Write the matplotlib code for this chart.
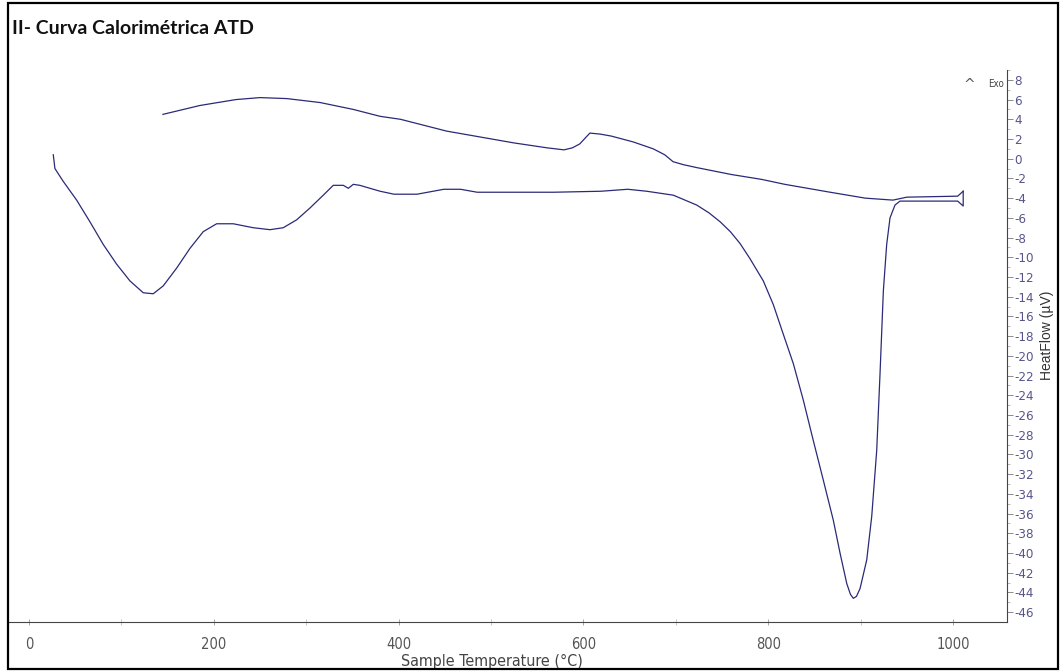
import matplotlib
matplotlib.use("Agg")
import matplotlib.pyplot as plt
from matplotlib.patches import Rectangle

# heating branch (sample temperature in C, heat flow in uV)
heat_T = [26.3, 28.1, 37.1, 51.6, 66, 80.4, 94.9, 109.3, 123.7, 134.5, 145.3, 159.8,
          174.2, 188.6, 203.1, 221.1, 242.7, 260.8, 275.2, 289.7, 304.1, 318.5, 329.3,
          340.2, 345.6, 351, 358, 380, 395, 420, 449, 467, 485, 568, 619, 648, 668.5,
          697.3, 722.6, 736, 748, 759, 769.5, 780, 794.7, 805.5, 816.3, 827.2, 838,
          848.8, 859.6, 870.5, 877.7, 885, 889, 892.1, 895.5, 899.4, 906.6, 912, 917.4,
          921, 924.6, 928.2, 931.8, 937.2, 942.6, 980, 1005, 1011, 1011]
heat_hf = [0.4, -1.0, -2.3, -4.2, -6.4, -8.7, -10.7, -12.4, -13.6, -13.7, -12.9, -11.1,
           -9.1, -7.4, -6.6, -6.6, -7.0, -7.2, -7.0, -6.2, -5.0, -3.7, -2.7, -2.7, -3.0,
           -2.6, -2.7, -3.3, -3.6, -3.6, -3.1, -3.1, -3.4, -3.4, -3.3, -3.1, -3.3, -3.7,
           -4.7, -5.5, -6.4, -7.4, -8.6, -10.1, -12.4, -14.8, -17.8, -20.8, -24.5, -28.6,
           -32.6, -36.7, -40.0, -43.1, -44.2, -44.6, -44.4, -43.6, -40.7, -36.3, -29.6,
           -21.8, -13.4, -8.7, -6.0, -4.7, -4.3, -4.3, -4.3, -4.8, -3.3]

# cooling branch
cool_T = [1011, 1005, 950, 935, 905, 867, 818, 793, 760, 722.6, 708, 697, 688, 675.6,
          654, 630, 618, 607, 602, 596, 588, 579, 561, 525, 452, 402, 380, 351, 315,
          279, 250, 224, 185, 145]
cool_hf = [-3.3, -3.8, -3.9, -4.2, -4.0, -3.4, -2.6, -2.1, -1.6, -0.9, -0.6, -0.3, 0.4,
           1.0, 1.7, 2.3, 2.5, 2.6, 2.1, 1.5, 1.1, 0.9, 1.1, 1.6, 2.8, 4.0, 4.3, 5.0,
           5.7, 6.1, 6.2, 6.0, 5.4, 4.5]

x_ticks = [0, 200, 400, 600, 800, 1000]
y_ticks = list(range(8, -47, -2))

lab_font = dict(family='DejaVu Sans', stretch='condensed')
line_col = '#2a2a78'

fig = plt.figure(figsize=(10.61, 6.71), dpi=100)
ax = fig.add_axes([9 / 1061, 49 / 671, 998 / 1061, 552 / 671])

ax.plot(heat_T, heat_hf, color=line_col, lw=0.9)
ax.plot(cool_T, cool_hf, color=line_col, lw=0.9)

ax.set_xlim(-21.6, 1058.4)
ax.set_ylim(-47.0, 8.8)

ax.spines['left'].set_visible(False)
ax.spines['top'].set_visible(False)
ax.spines['bottom'].set_color('#444444')
ax.spines['right'].set_color('#444444')

ax.yaxis.tick_right()
ax.yaxis.set_label_position('right')
ax.set_xticks(x_ticks)
ax.set_xticks([100, 300, 500, 700, 900], minor=True)
ax.set_yticks(y_ticks)
ax.set_yticks(list(range(9, -47, -2)), minor=True)
ax.set_yticklabels([str(v) for v in y_ticks], fontsize=9.5, color='#55558c', **lab_font)
ax.set_xticklabels([str(v) for v in x_ticks], fontsize=10.5, color='#555555', **lab_font)
ax.tick_params(axis='x', which='major', direction='inout', length=5, width=0.6, color='#999999', pad=8)
ax.tick_params(axis='x', which='minor', direction='inout', length=4, width=0.6, color='#bbbbbb')
ax.tick_params(axis='y', which='major', direction='out', length=4, width=0.6, color='#777777', pad=1)
ax.tick_params(axis='y', which='minor', direction='out', length=2, width=0.5, color='#999999')

ax.set_xlabel('Sample Temperature (°C)', fontsize=11.5, color='#444444', **lab_font)
ax.xaxis.set_label_coords(0.484, -0.058)
ax.set_ylabel('HeatFlow (µV)', family=['Liberation Sans', 'DejaVu Sans'], fontsize=10, color='#333333')
ax.yaxis.set_label_coords(1.033, 0.52)

ax.text(0.962, 0.9656, '^', transform=ax.transAxes, fontsize=10, color='#555555',
        ha='center', va='baseline')
ax.text(0.997, 0.975, 'Exo', transform=ax.transAxes, fontsize=7, color='#444444',
        ha='right', va='center', **lab_font)

fig.text(12 / 1061, 1 - 28 / 671, 'II- Curva Calorimétrica ATD', fontsize=14,
         fontweight='bold', family=['Lato', 'DejaVu Sans'], color='#111111', va='center')

fig.patches.append(Rectangle((8 / 1061, 2 / 671), 1050 / 1061, 666 / 671, transform=fig.transFigure,
                             fill=False, edgecolor='black', lw=1.6))

fig.savefig('out.png', dpi=100)
